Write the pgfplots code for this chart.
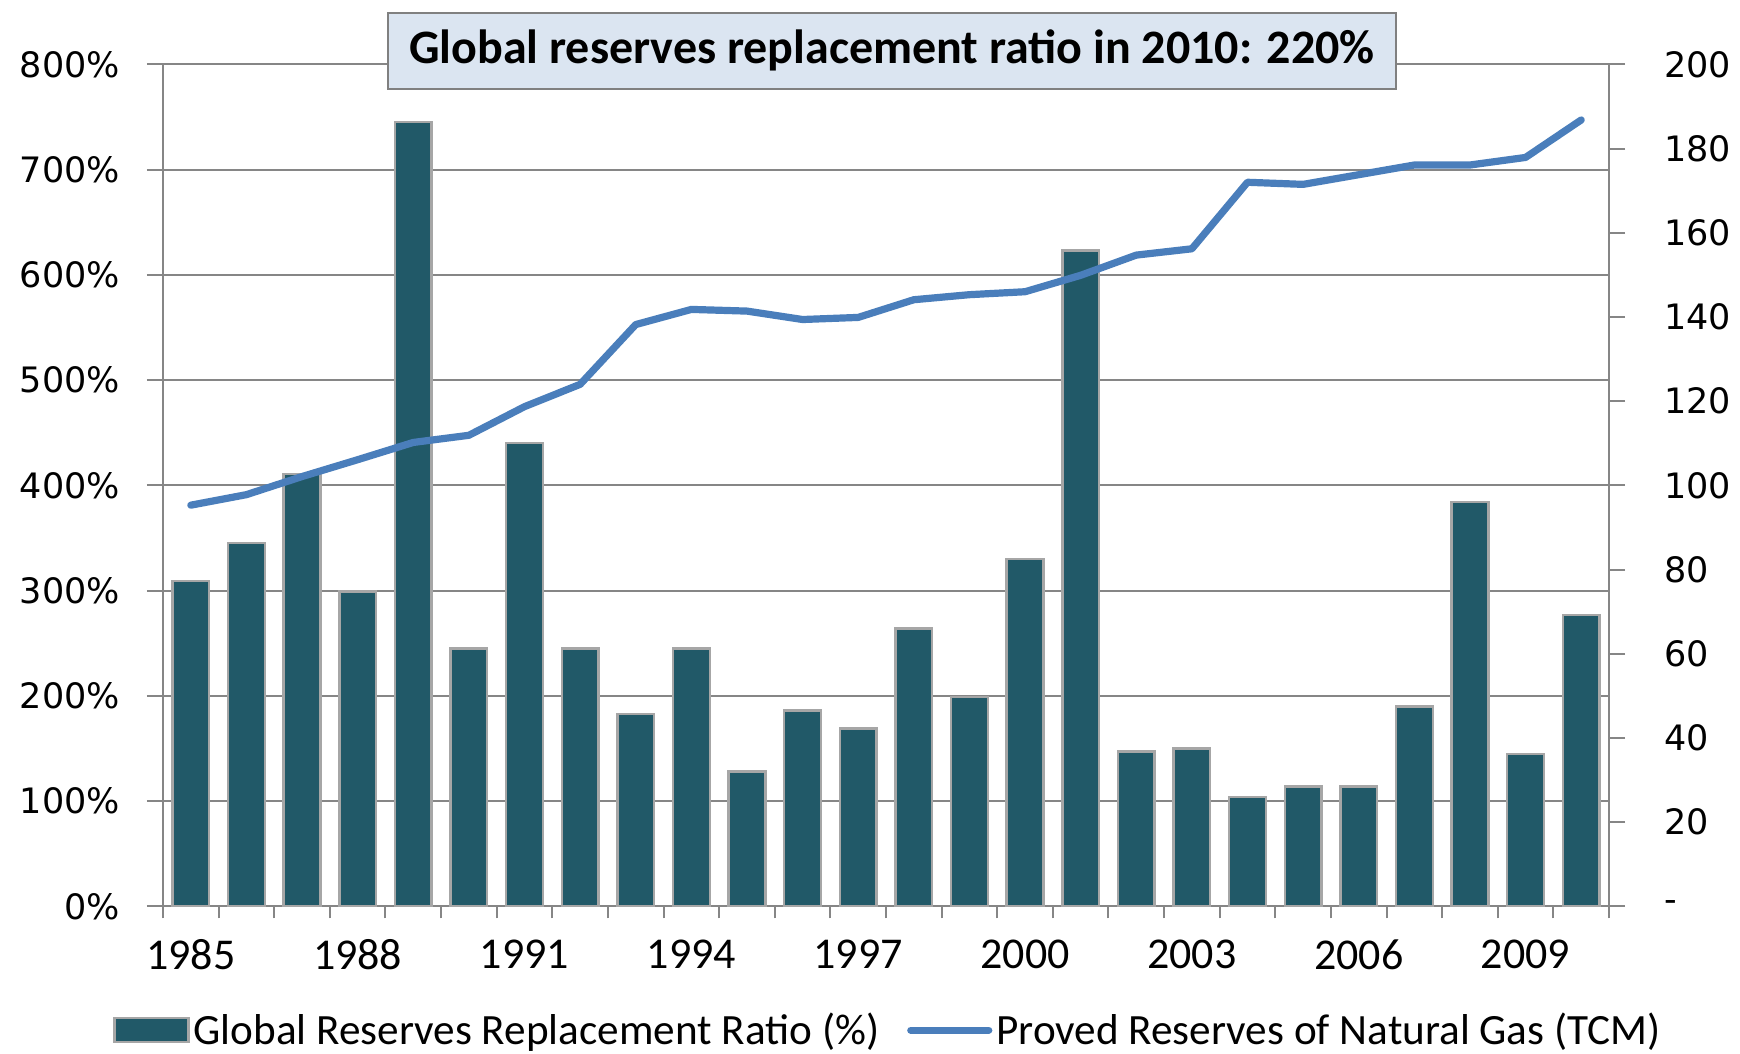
\documentclass[border=0pt]{standalone}
\usepackage{fontspec}
\setmainfont{Carlito}
\newfontfamily\dejavu{DejaVu Sans}
\usepackage{pgfplots}
\usepackage{pgfplotstable}
\pgfplotsset{compat=1.18}

\definecolor{barfill}{HTML}{215968}
\definecolor{baredge}{HTML}{A6A6A6}
\definecolor{gridgray}{HTML}{868686}
\definecolor{linecol}{HTML}{4A7EBB}
\definecolor{titlefill}{HTML}{DBE5F1}

\pgfplotsset{
  base/.style={
    scale only axis, width=723pt, height=421pt,
    xmin=-0.5, xmax=25.5,
    axis line style={gridgray, line width=1pt},
    tick style={gridgray, line width=1pt},
    tick align=outside,
    major tick length=8pt,
    minor tick length=6pt,
  },
  barleg/.style={legend image code/.code={\draw[##1] (0pt,-6pt) rectangle (37pt,6pt);}},
  lineleg/.style={legend image code/.code={\draw[##1] (0pt,0pt) -- (39pt,0pt);}},
}

% idx = position on the x axis, ratio in %, reserves in TCM
\pgfplotstableread{
idx year ratio reserves
0  1985 309 95.3
1  1986 345 97.8
2  1987 411 102.1
3  1988 299 106.1
4  1989 745 110.2
5  1990 245 111.9
6  1991 440 118.7
7  1992 245 124.0
8  1993 183 138.2
9  1994 245 141.8
10 1995 128 141.4
11 1996 186 139.4
12 1997 169 139.9
13 1998 264 144.1
14 1999 199 145.3
15 2000 330 146.0
16 2001 623 149.9
17 2002 147 154.7
18 2003 150 156.2
19 2004 104 172.0
20 2005 114 171.5
21 2006 114 173.8
22 2007 190 176.1
23 2008 384 176.1
24 2009 145 177.9
25 2010 277 186.8
}\data

\begin{document}
\begin{tikzpicture}
\path[use as bounding box] (-81.5pt,-73.7pt) rectangle (788.5pt,453.2pt);

\begin{axis}[
  base,
  ymin=0, ymax=800,
  xtick={0,3,...,24},
  xticklabels={1985,1988,1991,1994,1997,2000,2003,2006,2009},
  major x tick style={draw=none},
  minor xtick={-0.5,0.5,...,25.5},
  xtick pos=bottom,
  ytick={0,100,...,800},
  yticklabels={0\%,100\%,200\%,300\%,400\%,500\%,600\%,700\%,800\%},
  ytick pos=left,
  ymajorgrids,
  grid style={gridgray, line width=1pt},
  xticklabel style={font=\fontsize{22pt}{26pt}\selectfont, yshift=-5pt},
  yticklabel style={font=\dejavu\fontsize{17.5pt}{20pt}\selectfont, xshift=-10pt},
]
\addplot[ybar, bar width=0.66, fill=barfill, draw=baredge, line width=1.2pt]
  table[x=idx, y=ratio] {\data};
\end{axis}

\begin{axis}[
  base,
  ymin=0, ymax=200,
  axis x line=none,
  axis y line*=right,
  ytick={0,20,...,200},
  yticklabels={-,20,40,60,80,100,120,140,160,180,200},
  yticklabel style={font=\dejavu\fontsize{17.5pt}{20pt}\selectfont, xshift=16pt},
  legend columns=2,
  legend style={at={(0.502,-0.147)}, anchor=center, draw=none, fill=none,
    font=\fontsize{21.6pt}{26pt}\selectfont,
    /tikz/every even column/.append style={column sep=12pt}},
  legend cell align=left,
]
\addlegendimage{barleg, fill=barfill, draw=baredge, line width=1.2pt}
\addlegendentry{Global Reserves Replacement Ratio (\%)}
\addplot[lineleg, linecol, line width=3.6pt, line cap=round, line join=round]
  table[x=idx, y=reserves] {\data};
\addlegendentry{Proved Reserves of Natural Gas (TCM)}
\end{axis}

\node[fill=titlefill, draw=gray, line width=1pt, minimum width=504pt,
  minimum height=38pt, font=\bfseries\fontsize{24pt}{28pt}\selectfont]
  at (364.5pt,427.8pt) {Global reserves replacement ratio in 2010: 220\%};
\end{tikzpicture}
\end{document}
